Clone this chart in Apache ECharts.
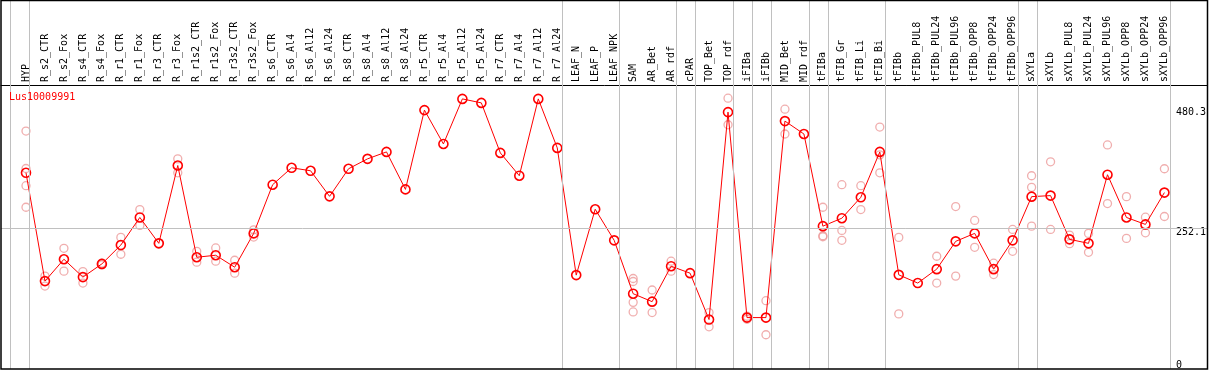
<!DOCTYPE html>
<html>
<head>
<meta charset="utf-8">
<script src="https://cdn.jsdelivr.net/npm/echarts@6/dist/echarts.min.js"></script>
<style>
html,body{margin:0;padding:0;background:#fff;}
#chart{width:1209px;height:370px;}
</style>
</head>
<body>
<div id="chart"></div>
<script>
const seriesName = 'Lus10009991';
const categories = ['HYP','R_s2_CTR','R_s2_Fox','R_s4_CTR','R_s4_Fox','R_r1_CTR','R_r1_Fox','R_r3_CTR','R_r3_Fox',
  'R_r1s2_CTR','R_r1s2_Fox','R_r3s2_CTR','R_r3s2_Fox','R_s6_CTR','R_s6_Al4','R_s6_Al12','R_s6_Al24',
  'R_s8_CTR','R_s8_Al4','R_s8_Al12','R_s8_Al24','R_r5_CTR','R_r5_Al4','R_r5_Al12','R_r5_Al24',
  'R_r7_CTR','R_r7_Al4','R_r7_Al12','R_r7_Al24','LEAF_N','LEAF_P','LEAF_NPK','SAM','AR_Bet','AR_rdf',
  'cPAR','TOP_Bet','TOP_rdf','iFIBa','iFIBb','MID_Bet','MID_rdf','tFIBa','tFIB_Gr','tFIB_Li','tFIB_Bi',
  'tFIBb','tFIBb_PUL8','tFIBb_PUL24','tFIBb_PUL96','tFIBb_OPP8','tFIBb_OPP24','tFIBb_OPP96',
  'sXYLa','sXYLb','sXYLb_PUL8','sXYLb_PUL24','sXYLb_PUL96','sXYLb_OPP8','sXYLb_OPP24','sXYLb_OPP96'];
const meanValues = [355.3,149.7,191.2,157.3,182.4,218.2,270.5,221.4,369.1,
  195.0,198.8,176.1,240.3,332.7,364.8,359.1,310.6,
  362.9,381.7,394.9,323.8,474.2,410.0,495.5,487.9,
  393.0,349.7,495.5,402.5,161.1,286.1,227.1,125.8,110.7,178.0,
  164.8,76.8,470.4,80.5,80.5,453.4,428.9,254.0,269.1,308.8,394.9,
  161.6,146.0,172.4,225.2,240.3,172.4,227.1,
  310.0,312.0,229.0,221.4,351.6,270.5,257.3,317.7];
const replicates = [[434.5,363.4,330.8,289.9],[159.2,140.3],[212.0,168.6],[167.9,146.0],[184.0,180.5],
  [232.7,200.7],[285.5,255.4],[221.4],[381.7,355.3],
  [206.3,185.6],[212.6,187.5],[189.3,164.8],[247.1,233.3],[],[],[],[],
  [],[],[],[],[],[],[],[],
  [],[],[],[],[],[],[],[154.7,149.0,109.4,91.2],[132.8,90.0],[187.5,168.6],
  [],[90.0,63.0],[496.8,446.4],[83.0,77.3],[112.6,47.9],[476.0,428.9],[],[289.9,235.8,233.9],[332.7,245.9,227.1],[330.8,285.5],[442.1,389.3,355.3],
  [232.7,87.5],[],[196.9,146.0],[291.2,159.2],[264.8,213.9],[183.7,162.2],[247.8,206.3],
  [349.7,327.6,254.0],[376.1,247.8],[237.1,220.7],[240.3,204.4],[408.1,296.9],[310.0,230.8],[271.0,241.4],[362.9,272.3]];
const yTickValues = [0, 252.1, 480.3];
const gridLineValue = 252.1;
const groupEnds = ['HYP','R_r7_Al24','LEAF_NPK','AR_rdf','cPAR','TOP_rdf','iFIBa','iFIBb','MID_rdf','tFIBa','tFIB_Bi','tFIBb_OPP96','sXYLa','sXYLb_OPP96'];

// layout
const dataLeft = 16.5, band = 19.02;
const dataWidth = band * categories.length;
const frameLeft = 1, frameRight = 1207.5, frameTop = 0, frameBottom = 369;
const labelAxisY = 85;
const pxPerUnit = 0.5302, yZeroPx = 361.7;
const yMinVal = -(frameBottom - yZeroPx) / pxPerUnit;
const yMaxFrame = yMinVal + (frameBottom - frameTop) / pxPerUnit;
const yMaxData = yMinVal + (frameBottom - labelAxisY) / pxPerUnit;
const firstCenter = dataLeft + band / 2;
const xMinFrame = (frameLeft - firstCenter) / band;
const xMaxFrame = xMinFrame + (frameRight - frameLeft) / band;
const gridShift = 3.5 / band;

const font = 'DejaVu Sans Mono';
const gridColor = '#c0c0c0';
const repData = [];
replicates.forEach((arr, i) => arr.forEach(v => repData.push([i, v])));
const boundaryIdx = [-1].concat(groupEnds.map(n => categories.indexOf(n)));
const vLines = boundaryIdx.map(i => [{coord: [i + gridShift, yMinVal]}, {coord: [i + gridShift, yMaxFrame]}]);
const hLine = [{coord: [xMinFrame, gridLineValue]}, {coord: [xMaxFrame, gridLineValue]}];

const chart = echarts.init(document.getElementById('chart'), null, {renderer: 'canvas'});
chart.setOption({
  animation: false,
  backgroundColor: '#fff',
  title: {text: seriesName, left: 9, top: 92, padding: 0, z: 10,
    textStyle: {color: '#ff0000', fontFamily: font, fontSize: 10, fontWeight: 'normal'}},
  grid: [
    {left: frameLeft, top: frameTop, width: frameRight - frameLeft, height: frameBottom - frameTop, containLabel: false},
    {left: dataLeft, top: labelAxisY, width: dataWidth, height: frameBottom - labelAxisY, containLabel: false}
  ],
  xAxis: [
    {type: 'value', gridIndex: 0, min: xMinFrame, max: xMaxFrame, position: 'top', offset: -labelAxisY,
      axisLine: {show: true, onZero: false, lineStyle: {color: '#000', width: 1}},
      axisTick: {show: false}, axisLabel: {show: false}, splitLine: {show: false}},
    {type: 'category', gridIndex: 1, data: categories, position: 'top', boundaryGap: true,
      axisLine: {show: false}, axisTick: {show: false}, splitLine: {show: false},
      axisLabel: {interval: 0, rotate: 90, margin: 3, color: '#000', fontFamily: font, fontSize: 10}}
  ],
  yAxis: [
    {type: 'value', gridIndex: 0, min: yMinVal, max: yMaxFrame, show: false},
    {type: 'value', gridIndex: 1, min: yMinVal, max: yMaxData, position: 'right',
      axisLine: {show: false}, axisTick: {show: false}, splitLine: {show: false},
      axisLabel: {show: true, customValues: yTickValues, margin: 2, align: 'left', verticalAlign: 'top',
        color: '#000', fontFamily: font, fontSize: 10, showMinLabel: true, showMaxLabel: true,
        formatter: v => String(v)}}
  ],
  series: [
    {type: 'line', xAxisIndex: 0, yAxisIndex: 0, data: [], z: 1, silent: true,
      markLine: {silent: true, symbol: 'none', animation: false, label: {show: false},
        lineStyle: {color: gridColor, width: 1, type: 'solid', opacity: 1},
        data: vLines.concat([hLine])}},
    {type: 'scatter', xAxisIndex: 1, yAxisIndex: 1, data: repData, z: 3,
      symbol: 'circle', symbolSize: 8,
      itemStyle: {color: 'rgba(255,255,255,0)', borderColor: '#ec9a9a', borderWidth: 1.3}},
    {type: 'line', name: seriesName, xAxisIndex: 1, yAxisIndex: 1, data: meanValues, z: 4,
      symbol: 'circle', symbolSize: 9, showAllSymbol: true,
      lineStyle: {color: '#ff0000', width: 1},
      itemStyle: {color: 'rgba(255,255,255,0)', borderColor: '#ff0000', borderWidth: 1.6}}
  ],
  graphic: [{type: 'rect', silent: true, z: 100,
    shape: {x: frameLeft, y: frameTop + 0.5, width: frameRight - frameLeft, height: frameBottom - frameTop - 0.5},
    style: {fill: null, stroke: '#000', lineWidth: 1.5}}]
});
</script>
</body>
</html>
